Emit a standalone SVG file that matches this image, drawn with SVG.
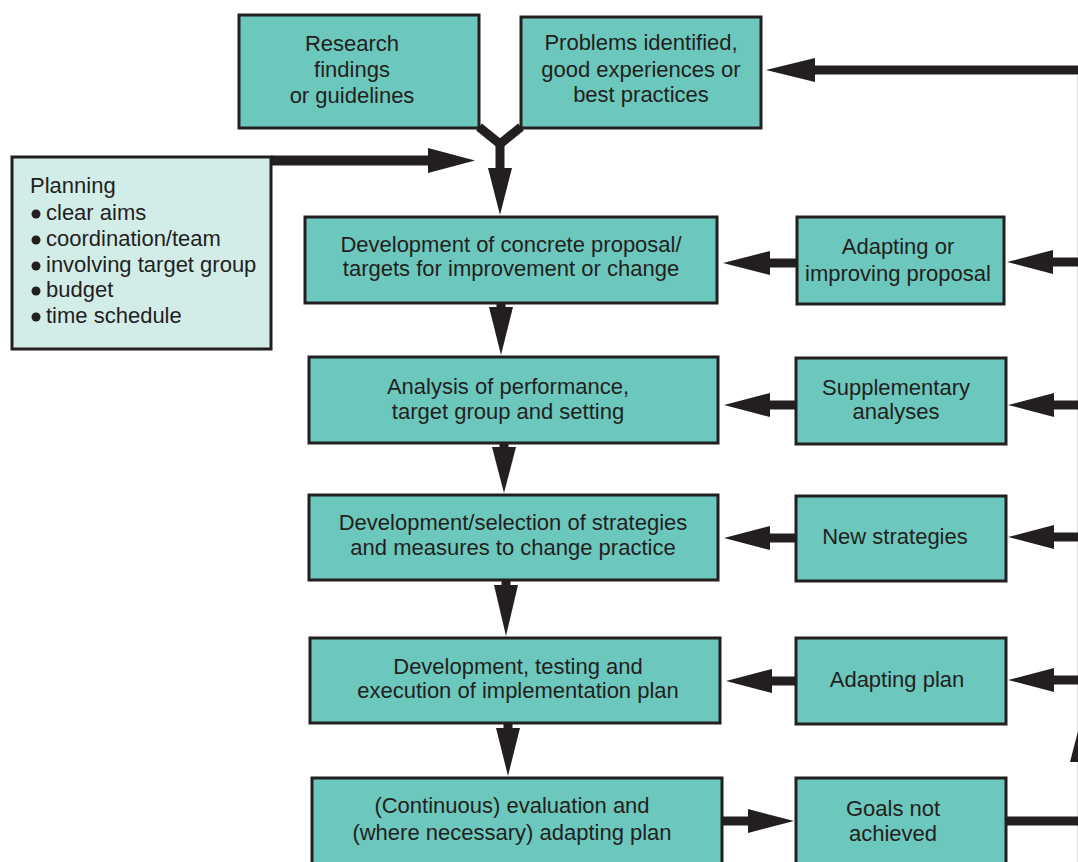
<svg xmlns="http://www.w3.org/2000/svg" width="1078" height="862" viewBox="0 0 1078 862">
<style>
.box{fill:#6cc7bc;stroke:#231f20;stroke-width:3}
.plan{fill:#d2ece8;stroke:#231f20;stroke-width:3}
.t{font-family:"Liberation Sans",Arial,sans-serif;font-size:22px;fill:#231f20;text-anchor:middle}
.tl{font-family:"Liberation Sans",Arial,sans-serif;font-size:22px;fill:#231f20}
.sh{stroke:#231f20;stroke-width:9;fill:none}
.hd{fill:#231f20}
</style>
<rect width="1078" height="862" fill="#ffffff"/>
<line x1="1077.5" y1="76" x2="1077.5" y2="862" stroke="#dcdcdc" stroke-width="1"/>
<g id="connectors">
  <polyline class="sh" points="479,127 500,144 521,127" stroke-linejoin="miter"/>
  <line class="sh" x1="500" y1="142" x2="500" y2="172"/>
  <polygon class="hd" points="488,168 512,168 500,215"/>
  <line class="sh" x1="271" y1="160.5" x2="432" y2="160.5" style="stroke-width:10"/>
  <polygon class="hd" points="428,148 428,173 475,160.5"/>
  <line class="sh" x1="810" y1="70" x2="1080" y2="70"/>
  <polygon class="hd" points="815,58 815,82 766,70"/>
  <line class="sh" x1="501" y1="303" x2="501" y2="310"/>
  <polygon class="hd" points="489,307 513,307 501,355"/>
  <line class="sh" x1="504" y1="443" x2="504" y2="450"/>
  <polygon class="hd" points="492,447 516,447 504,493"/>
  <line class="sh" x1="506" y1="580" x2="506" y2="588"/>
  <polygon class="hd" points="494,585 518,585 506,636"/>
  <line class="sh" x1="508" y1="723" x2="508" y2="731"/>
  <polygon class="hd" points="496,728 520,728 508,776"/>
  <line class="sh" x1="797" y1="263" x2="765" y2="263"/>
  <polygon class="hd" points="770,251 770,275 723,263"/>
  <line class="sh" x1="796" y1="405" x2="765" y2="405"/>
  <polygon class="hd" points="770,393 770,417 724,405"/>
  <line class="sh" x1="796" y1="538" x2="765" y2="538"/>
  <polygon class="hd" points="770,526 770,550 724,538"/>
  <line class="sh" x1="796" y1="681" x2="767" y2="681"/>
  <polygon class="hd" points="772,669 772,693 726,681"/>
  <line class="sh" x1="1050" y1="262" x2="1080" y2="262"/>
  <polygon class="hd" points="1053,250 1053,274 1007,262"/>
  <line class="sh" x1="1050" y1="405" x2="1080" y2="405"/>
  <polygon class="hd" points="1054,393 1054,417 1008,405"/>
  <line class="sh" x1="1050" y1="537" x2="1080" y2="537"/>
  <polygon class="hd" points="1054,525 1054,549 1008,537"/>
  <line class="sh" x1="1050" y1="680" x2="1080" y2="680"/>
  <polygon class="hd" points="1054,668 1054,692 1008,680"/>
  <line class="sh" x1="722" y1="821" x2="752" y2="821"/>
  <polygon class="hd" points="748,809 748,833 794,821"/>
  <line class="sh" x1="1006" y1="821" x2="1080" y2="821"/>
  <polygon class="hd" points="1070,762 1096,762 1083,712"/>
</g>
<g id="research">
  <rect class="box" x="239" y="15" width="240" height="113"/>
  <text class="t" x="352" y="51">Research</text>
  <text class="t" x="352" y="77">findings</text>
  <text class="t" x="352" y="103">or guidelines</text>
</g>
<g id="problems">
  <rect class="box" x="521" y="17" width="240" height="111"/>
  <text class="t" x="641" y="50">Problems identified,</text>
  <text class="t" x="641" y="77">good experiences or</text>
  <text class="t" x="641" y="102">best practices</text>
</g>
<g id="planning">
  <rect class="plan" x="12" y="157" width="259" height="192"/>
  <text class="tl" x="30" y="193">Planning</text>
  <circle class="hd" cx="36" cy="214" r="4.5"/>
  <text class="tl" x="46" y="220">clear aims</text>
  <circle class="hd" cx="36" cy="240" r="4.5"/>
  <text class="tl" x="46" y="246">coordination/team</text>
  <circle class="hd" cx="36" cy="266" r="4.5"/>
  <text class="tl" x="46" y="272">involving target group</text>
  <circle class="hd" cx="36" cy="291" r="4.5"/>
  <text class="tl" x="46" y="297">budget</text>
  <circle class="hd" cx="36" cy="317" r="4.5"/>
  <text class="tl" x="46" y="323">time schedule</text>
</g>
<g id="proposal">
  <rect class="box" x="305" y="217" width="412" height="86"/>
  <text class="t" x="511" y="252">Development of concrete proposal/</text>
  <text class="t" x="511" y="276">targets for improvement or change</text>
</g>
<g id="analysis">
  <rect class="box" x="309" y="357" width="409" height="86"/>
  <text class="t" x="508" y="394">Analysis of performance,</text>
  <text class="t" x="508" y="419">target group and setting</text>
</g>
<g id="strategies">
  <rect class="box" x="309" y="495" width="409" height="85"/>
  <text class="t" x="513" y="530">Development/selection of strategies</text>
  <text class="t" x="513" y="555">and measures to change practice</text>
</g>
<g id="implementation">
  <rect class="box" x="310" y="638" width="410" height="85"/>
  <text class="t" x="518" y="674">Development, testing and</text>
  <text class="t" x="518" y="698">execution of implementation plan</text>
</g>
<g id="evaluation">
  <rect class="box" x="312" y="778" width="410" height="100"/>
  <text class="t" x="512" y="813">(Continuous) evaluation and</text>
  <text class="t" x="512" y="840">(where necessary) adapting plan</text>
</g>
<g id="adapting-proposal">
  <rect class="box" x="797" y="217" width="207" height="87"/>
  <text class="t" x="898" y="254">Adapting or</text>
  <text class="t" x="898" y="281">improving proposal</text>
</g>
<g id="supplementary">
  <rect class="box" x="796" y="358" width="210" height="86"/>
  <text class="t" x="896" y="395">Supplementary</text>
  <text class="t" x="896" y="419">analyses</text>
</g>
<g id="new-strategies">
  <rect class="box" x="796" y="496" width="210" height="85"/>
  <text class="t" x="895" y="544">New strategies</text>
</g>
<g id="adapting-plan">
  <rect class="box" x="796" y="638" width="210" height="86"/>
  <text class="t" x="897" y="687">Adapting plan</text>
</g>
<g id="goals">
  <rect class="box" x="796" y="778" width="210" height="100"/>
  <text class="t" x="893" y="816">Goals not</text>
  <text class="t" x="893" y="841">achieved</text>
</g>
</svg>
